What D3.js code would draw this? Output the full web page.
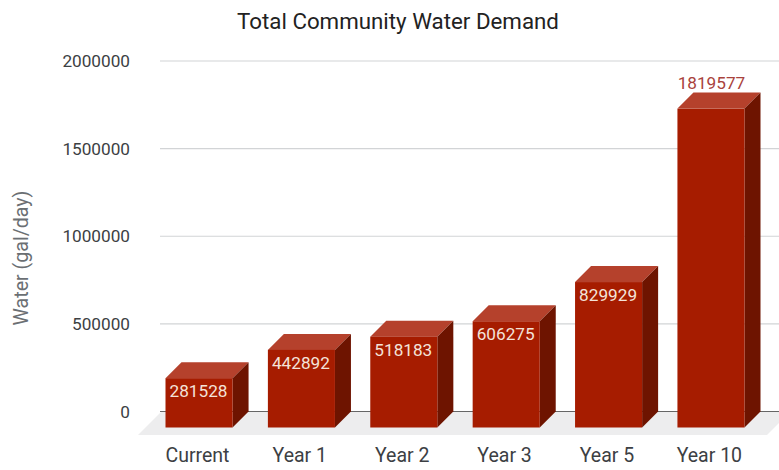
<!DOCTYPE html>
<html><head><meta charset="utf-8">
<script src="https://cdn.jsdelivr.net/npm/d3@7"></script>
<style>html,body{margin:0;padding:0;background:#fff}svg{display:block}text{font-family:Roboto,sans-serif}</style>
</head><body><div id="c"></div>
<script>
const categories = ["Current","Year 1","Year 2","Year 3","Year 5","Year 10"];
const demand = [281528,442892,518183,606275,829929,1819577];
const yTicks = [0,500000,1000000,1500000,2000000];
const W=779,H=470,depth=16;
const svg=d3.select("#c").append("svg").attr("width",W).attr("height",H);
const x=d3.scaleBand().domain(categories).range([165.5,744.5]).paddingInner(0.345).paddingOuter(0);
const y=d3.scaleLinear().domain([0,2000000]).range([411.5,61]);
// floor
svg.append("path").attr("d",`M138,435L161,412L${W+11},412L767,435Z`).attr("fill","#ededee");
// grid
svg.selectAll(".grid").data(yTicks).join("line")
 .attr("x1",160).attr("x2",W).attr("y1",d=>y(d)).attr("y2",d=>y(d))
 .attr("stroke",d=>d===0?"#666":"#d2d4d6").attr("stroke-width",1.2);
// y labels
svg.selectAll(".yl").data(yTicks).join("text").attr("x",130).attr("y",d=>y(d)+6)
 .attr("text-anchor","end").attr("font-size",17.2).attr("fill","#3c4043").text(d=>d);
svg.append("text").attr("transform","translate(28,258) rotate(-90)").attr("text-anchor","middle")
 .attr("font-size",19.6).attr("fill","#6b6f73").text("Water (gal/day)");
svg.append("text").attr("x",398).attr("y",28.5).attr("text-anchor","middle").attr("font-size",22.3).attr("fill","#222").text("Total Community Water Demand");
// bars
const g=svg.selectAll(".bar").data(categories.map((c,i)=>({c,v:demand[i]}))).join("g");
const bw=x.bandwidth(), y0=y(0)+depth;
g.append("path").attr("fill","#b5412c").attr("d",d=>{const l=x(d.c),t=y(d.v)+depth;return `M${l},${t}L${l+depth},${t-depth}L${l+bw+depth},${t-depth}L${l+bw},${t}Z`});
g.append("path").attr("fill","#6e1400").attr("d",d=>{const l=x(d.c)+bw,t=y(d.v)+depth;return `M${l},${t}L${l+depth},${t-depth}L${l+depth},${y0-depth}L${l},${y0}Z`});
g.append("rect").attr("fill","#a61c00").attr("x",d=>x(d.c)).attr("width",bw).attr("y",d=>y(d.v)+depth).attr("height",d=>y0-y(d.v)-depth);
g.append("text").attr("x",d=>x(d.c)+bw/2-(d.v>1500000?-0.5:0.5)).attr("y",d=>d.v>1500000?y(d.v)-4:y(d.v)+depth+19)
 .attr("text-anchor","middle").attr("font-size",17.2)
 .attr("fill",d=>d.v>1500000?"#a9423c":"#f4e3d9").text(d=>d.v);
g.append("text").attr("x",d=>x(d.c)+bw/2-1.6).attr("y",461.5).attr("text-anchor","middle").attr("font-size",19.5).attr("fill","#3c4043").text(d=>d.c);
</script></body></html>
